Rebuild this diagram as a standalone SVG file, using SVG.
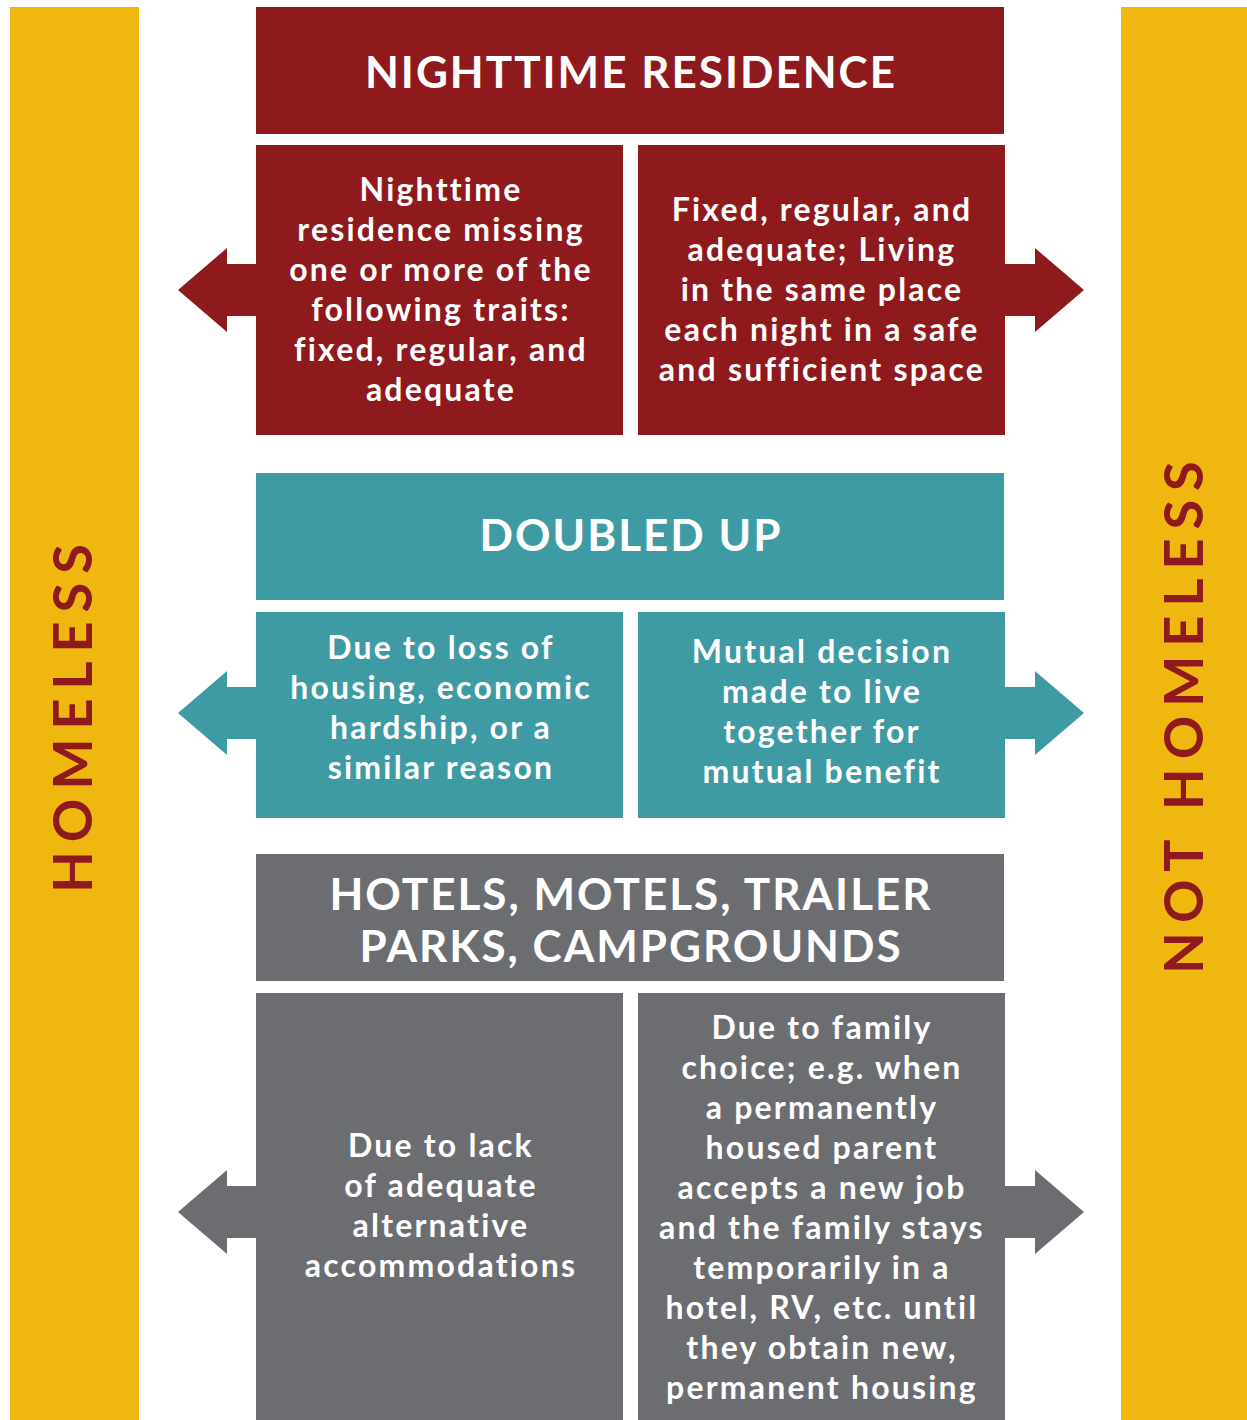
<svg xmlns="http://www.w3.org/2000/svg" width="1247" height="1420" viewBox="0 0 1247 1420">
<style>
.red{fill:#8E1A1E}.teal{fill:#3F9BA3}.gray{fill:#6C6D71}.yel{fill:#EFB710}
.hd{font-family:Lato,"Liberation Sans",sans-serif;font-weight:700;font-size:44px;fill:#fff;text-anchor:middle;letter-spacing:2px}
.tx{font-family:Lato,"Liberation Sans",sans-serif;font-weight:700;font-size:32px;fill:#fff;text-anchor:middle;letter-spacing:2.2px}
.side{font-family:Lato,"Liberation Sans",sans-serif;font-weight:700;font-size:54px;fill:#8E1A1E;text-anchor:middle;letter-spacing:9px}
</style>
<rect width="1247" height="1420" fill="#fff"/>
<g id="homeless"><rect class="yel" x="10" y="7" width="129" height="1413"/>
<text class="side" transform="translate(92,714) rotate(-90)">HOMELESS</text></g>
<g id="not-homeless"><rect class="yel" x="1121" y="7" width="126" height="1413"/>
<text class="side" transform="translate(1203,713) rotate(-90)">NOT HOMELESS</text></g>
<g id="connectors">
<path class="red" d="M256,264H227V248L178,290L227,332V316H256Z"/>
<path class="red" d="M1005,264H1035V248L1084,290L1035,332V316H1005Z"/>
<path class="teal" d="M256,687H227V671L178,713L227,755V739H256Z"/>
<path class="teal" d="M1005,687H1035V671L1084,713L1035,755V739H1005Z"/>
<path class="gray" d="M256,1186H227V1170L178,1212L227,1254V1238H256Z"/>
<path class="gray" d="M1005,1186H1035V1170L1084,1212L1035,1254V1238H1005Z"/>
</g>
<g id="nighttime-residence"><rect class="red" x="256" y="7" width="748" height="127"/>
<text class="hd" x="631" y="88">NIGHTTIME RESIDENCE</text></g>
<g id="nr-homeless"><rect class="red" x="256" y="145" width="367" height="290"/>
<text class="tx"><tspan x="441" y="201">Nighttime</tspan><tspan x="441" y="241">residence missing</tspan><tspan x="441" y="281">one or more of the</tspan><tspan x="441" y="321">following traits:</tspan><tspan x="441" y="361">fixed, regular, and</tspan><tspan x="441" y="401">adequate</tspan></text></g>
<g id="nr-not"><rect class="red" x="638" y="145" width="367" height="290"/>
<text class="tx"><tspan x="822" y="221">Fixed, regular, and</tspan><tspan x="822" y="261">adequate; Living</tspan><tspan x="822" y="301">in the same place</tspan><tspan x="822" y="341">each night in a safe</tspan><tspan x="822" y="381">and sufficient space</tspan></text></g>
<g id="doubled-up"><rect class="teal" x="256" y="473" width="748" height="127"/>
<text class="hd" x="631" y="551">DOUBLED UP</text></g>
<g id="du-homeless"><rect class="teal" x="256" y="612" width="367" height="206"/>
<text class="tx"><tspan x="441" y="659">Due to loss of</tspan><tspan x="441" y="699">housing, economic</tspan><tspan x="441" y="739">hardship, or a</tspan><tspan x="441" y="779">similar reason</tspan></text></g>
<g id="du-not"><rect class="teal" x="638" y="612" width="367" height="206"/>
<text class="tx"><tspan x="822" y="663">Mutual decision</tspan><tspan x="822" y="703">made to live</tspan><tspan x="822" y="743">together for</tspan><tspan x="822" y="783">mutual benefit</tspan></text></g>
<g id="hotels"><rect class="gray" x="256" y="854" width="748" height="127"/>
<text class="hd"><tspan x="631" y="910">HOTELS, MOTELS, TRAILER</tspan><tspan x="631" y="962">PARKS, CAMPGROUNDS</tspan></text></g>
<g id="h-homeless"><rect class="gray" x="256" y="993" width="367" height="427"/>
<text class="tx"><tspan x="441" y="1157">Due to lack</tspan><tspan x="441" y="1197">of adequate</tspan><tspan x="441" y="1237">alternative</tspan><tspan x="441" y="1277">accommodations</tspan></text></g>
<g id="h-not"><rect class="gray" x="638" y="993" width="367" height="427"/>
<text class="tx"><tspan x="822" y="1039">Due to family</tspan><tspan x="822" y="1079">choice; e.g. when</tspan><tspan x="822" y="1119">a permanently</tspan><tspan x="822" y="1159">housed parent</tspan><tspan x="822" y="1199">accepts a new job</tspan><tspan x="822" y="1239">and the family stays</tspan><tspan x="822" y="1279">temporarily in a</tspan><tspan x="822" y="1319">hotel, RV, etc. until</tspan><tspan x="822" y="1359">they obtain new,</tspan><tspan x="822" y="1399">permanent housing</tspan></text></g>
</svg>
